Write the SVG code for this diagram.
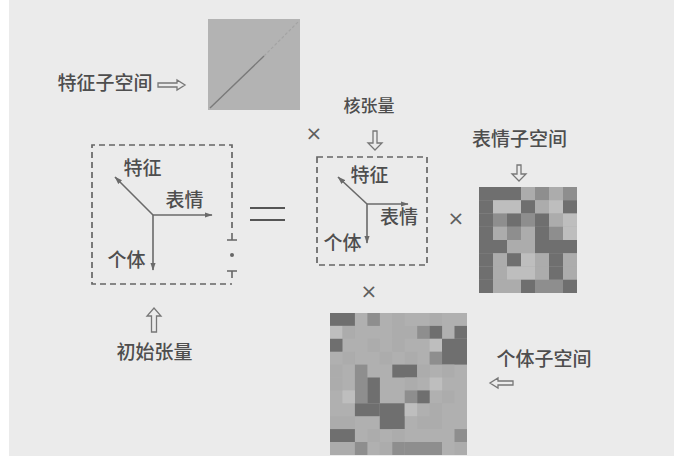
<svg xmlns="http://www.w3.org/2000/svg" width="674" height="463" viewBox="0 0 674 463">
<defs>
<style>
.t{font-family:"Noto Sans CJK SC","Noto Sans",sans-serif;font-size:19px;fill:#4e4e4e;text-anchor:middle;font-weight:500}
.x{font-family:"DejaVu Sans",sans-serif;font-size:20px;fill:#5e5e5e;text-anchor:middle}
.box{fill:none;stroke:#666;stroke-width:1.7;stroke-dasharray:6 4}
.ax{stroke:#6a6a6a;stroke-width:1.6;fill:none;marker-end:url(#ah)}
.ha{fill:none;stroke:#777;stroke-width:1.3;stroke-linejoin:miter}
.D{fill:#6f6f6f}.M{fill:#8e8e8e}.L{fill:#acacac}.V{fill:#bebebe}
</style>
<marker id="ah" viewBox="0 0 12 8" refX="11" refY="4" markerWidth="8" markerHeight="6" markerUnits="userSpaceOnUse" orient="auto">
<path d="M0,0 L12,4 L0,8 Z" fill="#6a6a6a"/>
</marker>
</defs>
<rect width="674" height="463" fill="#ffffff"/>
<rect x="9" y="0" width="665" height="456" fill="#ebebeb"/>

<g id="feature-subspace">
<rect x="208" y="19" width="92" height="91" fill="#b3b3b3"/>
<line x1="210" y1="108" x2="264" y2="56" stroke="#7a7a7a" stroke-width="1.4"/>
<line x1="264" y1="56" x2="299" y2="21" stroke="#a4a4a4" stroke-width="1.2" stroke-dasharray="3 2"/>
<text class="t" x="105" y="90">特征子空间</text>
<path class="ha" d="M158,83 H177 V80 L185,85 L177,90 V87 H158 Z"/>
</g>

<g id="initial-tensor">
<path class="box" d="M232,228 V145 H92 V284 H232"/>
<line class="ax" x1="153" y1="215" x2="115" y2="177"/>
<line class="ax" x1="153" y1="215" x2="212" y2="215"/>
<line class="ax" x1="153" y1="215" x2="153" y2="270"/>
<text class="t" x="142.5" y="175">特征</text>
<text class="t" x="184.5" y="207">表情</text>
<text class="t" x="126.5" y="267">个体</text>
<path class="ha" d="M151.5,332 V316 H147 L154,308 L161,316 H156.5 V332 Z"/>
<text class="t" x="154.5" y="359">初始张量</text>
</g>

<g id="equals">
<line x1="250" y1="208" x2="285" y2="208" stroke="#555" stroke-width="1.8"/>
<line x1="250" y1="220" x2="285" y2="220" stroke="#555" stroke-width="1.8"/>
<path d="M227,240 H237 M232,233 V240 M227,271 H237 M232,271 V278" stroke="#666" stroke-width="1.6" fill="none"/>
<circle cx="232" cy="255" r="2" fill="#666"/>
</g>

<g id="core-tensor">
<text class="t" x="369" y="112" style="font-size:17px">核张量</text>
<path class="ha" d="M373,131 V143 H368 L375,150 L382,143 H377 V131 Z"/>
<rect class="box" x="317" y="157" width="110" height="108"/>
<line class="ax" x1="367" y1="204" x2="338" y2="177"/>
<line class="ax" x1="367" y1="204" x2="408" y2="204"/>
<line class="ax" x1="367" y1="204" x2="367" y2="243"/>
<text class="t" x="369.5" y="182">特征</text>
<text class="t" x="399" y="224">表情</text>
<text class="t" x="342.5" y="250">个体</text>
</g>

<g id="times">
<text class="x" x="314" y="140">×</text>
<text class="x" x="456" y="225">×</text>
<text class="x" x="369" y="298">×</text>
</g>

<g id="expression-subspace">
<text class="t" x="519.5" y="146">表情子空间</text>
<path class="ha" d="M517,165 V174 H512 L519,181 L526,174 H521 V165 Z"/>
<g transform="translate(479,187)">
<rect width="98" height="106" fill="#aaaaaa"/>
<rect class="D" x="0" y="0" width="14" height="13.3"/><rect class="D" x="14" y="0" width="14" height="13.3"/><rect class="D" x="28" y="0" width="14" height="13.3"/><rect class="L" x="42" y="0" width="14" height="13.3"/><rect class="M" x="56" y="0" width="14" height="13.3"/><rect class="L" x="70" y="0" width="14" height="13.3"/><rect class="M" x="84" y="0" width="14" height="13.3"/>
<rect class="D" x="0" y="13.25" width="14" height="13.3"/><rect class="V" x="14" y="13.25" width="14" height="13.3"/><rect class="V" x="28" y="13.25" width="14" height="13.3"/><rect class="D" x="42" y="13.25" width="14" height="13.3"/><rect class="L" x="56" y="13.25" width="14" height="13.3"/><rect class="V" x="70" y="13.25" width="14" height="13.3"/><rect class="D" x="84" y="13.25" width="14" height="13.3"/>
<rect class="D" x="0" y="26.5" width="14" height="13.3"/><rect class="M" x="14" y="26.5" width="14" height="13.3"/><rect class="D" x="28" y="26.5" width="14" height="13.3"/><rect class="M" x="42" y="26.5" width="14" height="13.3"/><rect class="D" x="56" y="26.5" width="14" height="13.3"/><rect class="L" x="70" y="26.5" width="14" height="13.3"/><rect class="V" x="84" y="26.5" width="14" height="13.3"/>
<rect class="D" x="0" y="39.75" width="14" height="13.3"/><rect class="L" x="14" y="39.75" width="14" height="13.3"/><rect class="M" x="28" y="39.75" width="14" height="13.3"/><rect class="L" x="42" y="39.75" width="14" height="13.3"/><rect class="D" x="56" y="39.75" width="14" height="13.3"/><rect class="M" x="70" y="39.75" width="14" height="13.3"/><rect class="V" x="84" y="39.75" width="14" height="13.3"/>
<rect class="D" x="0" y="53" width="14" height="13.3"/><rect class="D" x="14" y="53" width="14" height="13.3"/><rect class="L" x="28" y="53" width="14" height="13.3"/><rect class="L" x="42" y="53" width="14" height="13.3"/><rect class="D" x="56" y="53" width="14" height="13.3"/><rect class="D" x="70" y="53" width="14" height="13.3"/><rect class="D" x="84" y="53" width="14" height="13.3"/>
<rect class="D" x="0" y="66.25" width="14" height="13.3"/><rect class="L" x="14" y="66.25" width="14" height="13.3"/><rect class="D" x="28" y="66.25" width="14" height="13.3"/><rect class="V" x="42" y="66.25" width="14" height="13.3"/><rect class="L" x="56" y="66.25" width="14" height="13.3"/><rect class="D" x="70" y="66.25" width="14" height="13.3"/><rect class="L" x="84" y="66.25" width="14" height="13.3"/>
<rect class="D" x="0" y="79.5" width="14" height="13.3"/><rect class="L" x="14" y="79.5" width="14" height="13.3"/><rect class="V" x="28" y="79.5" width="14" height="13.3"/><rect class="V" x="42" y="79.5" width="14" height="13.3"/><rect class="L" x="56" y="79.5" width="14" height="13.3"/><rect class="D" x="70" y="79.5" width="14" height="13.3"/><rect class="L" x="84" y="79.5" width="14" height="13.3"/>
<rect class="D" x="0" y="92.75" width="14" height="13.25"/><rect class="L" x="14" y="92.75" width="14" height="13.25"/><rect class="L" x="28" y="92.75" width="14" height="13.25"/><rect class="D" x="42" y="92.75" width="14" height="13.25"/><rect class="M" x="56" y="92.75" width="14" height="13.25"/><rect class="M" x="70" y="92.75" width="14" height="13.25"/><rect class="D" x="84" y="92.75" width="14" height="13.25"/>
</g>
</g>

<g id="individual-subspace">
<text class="t" x="544" y="366">个体子空间</text>
<path class="ha" d="M513,381 H498 V378 L490,383 L498,388 V385 H513 Z"/>
<g transform="translate(330,313)">
<rect width="137" height="142" fill="#b0b0b0"/>
<rect class="D" x="0" y="0" width="24.9" height="12.9"/>
<rect class="M" x="37.4" y="0" width="12.5" height="12.9"/>
<rect class="L" x="62.3" y="0" width="12.5" height="12.9"/>
<rect class="L" x="99.6" y="0" width="12.5" height="12.9"/>
<rect class="V" x="0" y="12.9" width="12.5" height="12.9"/>
<rect class="L" x="12.45" y="12.9" width="12.5" height="12.9"/>
<rect class="L" x="62.3" y="12.9" width="24.9" height="12.9"/>
<rect class="M" x="87.2" y="12.9" width="12.5" height="12.9"/>
<rect class="D" x="99.6" y="12.9" width="12.5" height="12.9"/>
<rect class="D" x="124.5" y="12.9" width="12.5" height="12.9"/>
<rect class="D" x="0" y="25.8" width="12.5" height="12.9"/>
<rect class="L" x="37.4" y="25.8" width="12.5" height="12.9"/>
<rect class="L" x="62.3" y="25.8" width="12.5" height="12.9"/>
<rect class="V" x="99.6" y="25.8" width="12.5" height="12.9"/>
<rect class="D" x="112" y="25.8" width="25" height="25.8"/>
<rect class="L" x="12.45" y="38.7" width="12.5" height="12.9"/>
<rect class="L" x="49.8" y="38.7" width="12.5" height="12.9"/>
<rect class="L" x="74.7" y="38.7" width="12.5" height="12.9"/>
<rect class="M" x="99.6" y="38.7" width="12.5" height="12.9"/>
<rect class="L" x="0" y="51.6" width="12.5" height="12.9"/>
<rect class="M" x="24.9" y="51.6" width="12.5" height="38.7"/>
<rect class="D" x="62.3" y="51.6" width="24.9" height="12.9"/>
<rect class="L" x="87.2" y="51.6" width="12.5" height="12.9"/>
<rect class="L" x="112" y="51.6" width="12.5" height="12.9"/>
<rect class="L" x="0" y="64.5" width="12.5" height="12.9"/>
<rect class="D" x="37.4" y="64.5" width="12.5" height="25.8"/>
<rect class="L" x="74.7" y="64.5" width="12.5" height="12.9"/>
<rect class="V" x="99.6" y="64.5" width="12.5" height="12.9"/>
<rect class="V" x="12.45" y="77.4" width="12.5" height="12.9"/>
<rect class="M" x="74.7" y="77.4" width="12.5" height="12.9"/>
<rect class="D" x="87.2" y="77.4" width="12.5" height="12.9"/>
<rect class="L" x="112" y="77.4" width="12.5" height="12.9"/>
<rect class="D" x="24.9" y="90.3" width="24.9" height="12.9"/>
<rect class="D" x="49.8" y="90.3" width="24.9" height="25.8"/>
<rect class="V" x="74.7" y="90.3" width="12.5" height="12.9"/>
<rect class="L" x="99.6" y="90.3" width="12.5" height="12.9"/>
<rect class="L" x="0" y="103.2" width="24.9" height="12.9"/>
<rect class="L" x="87.2" y="103.2" width="24.9" height="12.9"/>
<rect class="D" x="0" y="116.1" width="24.9" height="12.9"/>
<rect class="L" x="37.4" y="116.1" width="12.5" height="12.9"/>
<rect class="L" x="62.3" y="116.1" width="12.5" height="12.9"/>
<rect class="M" x="124.5" y="116.1" width="12.5" height="12.9"/>
<rect class="L" x="0" y="129" width="24.9" height="13"/>
<rect class="M" x="24.9" y="129" width="12.5" height="13"/>
<rect class="L" x="49.8" y="129" width="12.5" height="13"/>
<rect class="M" x="62.3" y="129" width="12.5" height="13"/>
<rect class="M" x="74.7" y="129" width="37.3" height="13"/>
<rect class="L" x="124.5" y="129" width="12.5" height="13"/>
</g>
</g>
</svg>
